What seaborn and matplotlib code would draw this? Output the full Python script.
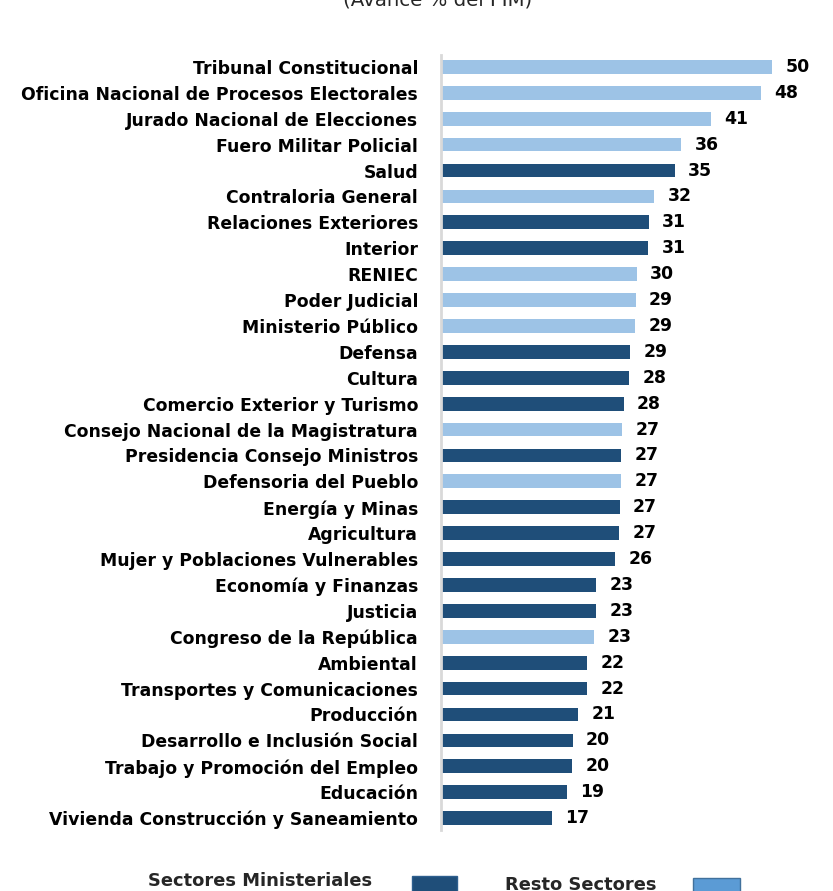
import numpy as np
import pandas as pd
import seaborn as sns
import matplotlib.pyplot as plt
from matplotlib.patches import Rectangle

sectores = ["Tribunal Constitucional", "Oficina Nacional de Procesos Electorales",
            "Jurado Nacional de Elecciones", "Fuero Militar Policial", "Salud",
            "Contraloria General", "Relaciones Exteriores", "Interior", "RENIEC",
            "Poder Judicial", "Ministerio Público", "Defensa", "Cultura",
            "Comercio Exterior y Turismo", "Consejo Nacional de la Magistratura",
            "Presidencia Consejo Ministros", "Defensoria del Pueblo", "Energía y Minas",
            "Agricultura", "Mujer y Poblaciones Vulnerables", "Economía y Finanzas",
            "Justicia", "Congreso de la República", "Ambiental",
            "Transportes y Comunicaciones", "Producción", "Desarrollo e Inclusión Social",
            "Trabajo y Promoción del Empleo", "Educación",
            "Vivienda Construcción y Saneamiento"]
avance = [50.0, 48.3, 40.8, 36.3, 35.3, 32.2, 31.4, 31.3, 29.6, 29.4, 29.3, 28.6, 28.4,
          27.6, 27.4, 27.2, 27.2, 27.0, 26.9, 26.3, 23.4, 23.4, 23.1, 22.1, 22.1, 20.7,
          19.9, 19.8, 19.0, 16.8]
grupo = ["Resto", "Resto", "Resto", "Resto", "Min", "Resto", "Min", "Min", "Resto",
         "Resto", "Resto", "Min", "Min", "Min", "Resto", "Min", "Resto", "Min", "Min",
         "Min", "Min", "Min", "Resto", "Min", "Min", "Min", "Min", "Min", "Min", "Min"]

df = pd.DataFrame({"sector": sectores, "avance": avance, "grupo": grupo})

dark = "#1F4E79"
light = "#9DC3E6"

sns.set_style("white")
plt.rcParams["font.family"] = ["DejaVu Sans"]
fs = 12.4

W, H = 833, 891
fig = plt.figure(figsize=(W / 100, H / 100), dpi=100)
ax = fig.add_axes([441 / W, 1 - 830 / H, (800 - 441) / W, (830 - 55) / H])

sns.barplot(data=df, y="sector", x="avance", hue="grupo", dodge=False,
            palette={"Min": dark, "Resto": light}, width=0.53, ax=ax, legend=False,
            saturation=1, linewidth=0)

for cont in ax.containers:
    ax.bar_label(cont, fmt="%.0f", padding=9.5, fontsize=fs, fontweight="bold",
                 color="black")

ax.set_xlim(0, 54.2)
ax.set_ylim(29.46, -0.46)
ax.set_xlabel("")
ax.set_ylabel("")
ax.set_xticks([])
ax.tick_params(axis="y", length=0, pad=16.5)
for lab in ax.get_yticklabels():
    lab.set_fontweight("bold")
    lab.set_fontsize(fs)
    lab.set_color("black")
for s in ["top", "right", "bottom"]:
    ax.spines[s].set_visible(False)
ax.spines["left"].set_color("#D9D9D9")
ax.spines["left"].set_linewidth(2)

fig.text(438 / W, 1 - 6 / H, "(Avance % del PIM)", ha="center", va="baseline",
         fontsize=14.2)

# leyenda
fig.text(372 / W, 1 - 881 / H, "Sectores Ministeriales", ha="right", va="center",
         fontsize=12.9, fontweight="bold")
fig.text(505 / W, 1 - 885 / H, "Resto Sectores", ha="left", va="center",
         fontsize=12.9, fontweight="bold")
fig.patches.append(Rectangle((412 / W, 1 - 905 / H), 45 / W, 29 / H,
                             transform=fig.transFigure, facecolor=dark,
                             edgecolor="#2E5F8E", linewidth=1))
fig.patches.append(Rectangle((693 / W, 1 - 905 / H), 47 / W, 27 / H,
                             transform=fig.transFigure, facecolor="#5B9BD5",
                             edgecolor="#41719C", linewidth=1))

fig.savefig("out.png", dpi=100)
